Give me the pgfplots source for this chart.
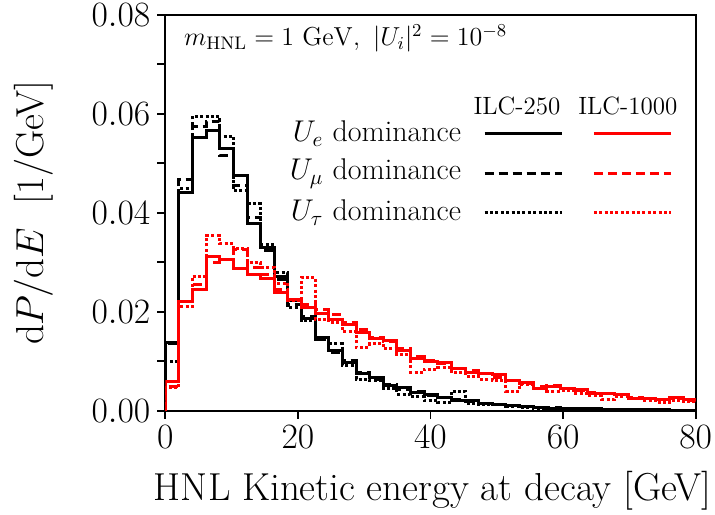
\RequirePackage{fix-cm}
\documentclass[border=0pt]{standalone}
\usepackage{pgfplots}
\pgfplotsset{compat=1.18}
\usepackage{pgfplotstable}
\pgfplotstableread{
x A B C D E F
0 0 0 0 0 0 0
0 0.0138 0.0135 0.0100 0.0059 0.0050 0.0047
2.055 0.0442 0.0468 0.0450 0.0221 0.0220 0.0210
4.11 0.0553 0.0575 0.0595 0.0245 0.0255 0.0272
6.165 0.0566 0.0585 0.0595 0.0311 0.0300 0.0354
8.22 0.0529 0.0515 0.0555 0.0305 0.0305 0.0337
10.275 0.0476 0.0455 0.0445 0.0287 0.0325 0.0327
12.33 0.0378 0.0390 0.0418 0.0276 0.0290 0.0300
14.385 0.0330 0.0323 0.0335 0.0268 0.0275 0.0290
16.44 0.0272 0.0265 0.0280 0.0240 0.0245 0.0258
18.495 0.0222 0.0215 0.0208 0.0224 0.0225 0.0222
20.55 0.0186 0.0190 0.0183 0.0208 0.0215 0.0270
22.605 0.0148 0.0145 0.0145 0.0196 0.0205 0.0185
24.66 0.0121 0.0118 0.0135 0.0184 0.0195 0.0178
26.715 0.0098 0.0102 0.0092 0.0175 0.0178 0.0160
28.77 0.0075 0.0078 0.0064 0.0158 0.0165 0.0128
30.825 0.0067 0.0064 0.0062 0.0147 0.0148 0.0135
32.88 0.0051 0.0053 0.0045 0.0143 0.0140 0.0125
34.935 0.0047 0.0044 0.0033 0.0122 0.0125 0.0113
36.99 0.0037 0.0038 0.0028 0.0106 0.0110 0.0078
39.045 0.0033 0.0030 0.0020 0.0100 0.0102 0.0084
41.1 0.0027 0.0026 0.0016 0.0097 0.0095 0.0087
43.155 0.0021 0.0023 0.0040 0.0085 0.0085 0.0077
45.21 0.0020 0.0018 0.0014 0.0078 0.0082 0.0070
47.265 0.0014 0.0015 0.0012 0.0075 0.0075 0.0064
49.32 0.0013 0.0012 0.0013 0.0073 0.0068 0.0062
51.375 0.0010 0.0010 0.0008 0.0061 0.0062 0.0040
53.43 0.0009 0.0008 0.0006 0.0057 0.0056 0.0054
55.485 0.0006 0.0007 0.0005 0.0046 0.0050 0.0045
57.54 0.0005 0.0006 0.0004 0.0050 0.0052 0.0040
59.595 0.0005 0.0005 0.0004 0.0045 0.0046 0.0041
61.65 0.0004 0.0004 0.0003 0.0044 0.0042 0.0034
63.705 0.0004 0.0003 0.0002 0.0035 0.0036 0.0030
65.76 0.0003 0.0003 0.0002 0.0034 0.0035 0.0023
67.815 0.0003 0.0002 0.0002 0.0033 0.0032 0.0028
69.87 0.0002 0.0002 0.0001 0.0024 0.0026 0.0024
71.925 0.0002 0.0002 0.0002 0.0024 0.0024 0.0020
73.98 0.0002 0.0001 0.0001 0.0023 0.0022 0.0016
76.035 0.0001 0.0001 0.0001 0.0026 0.0025 0.0020
78.09 0.0001 0.0001 0.0001 0.0022 0.0021 0.0018
80.145 0.0001 0.0001 0.0000 0.0022 0.0022 0.0018
82.2 0.0001 0.0001 0.0000 0.0022 0.0022 0.0018
82.2 0 0 0 0 0 0
}\histdata
\begin{document}
\begin{tikzpicture}
\begin{axis}[
  name=ax,
  scale only axis, width=265.2pt, height=198pt,
  xmin=0, xmax=80, ymin=0, ymax=0.08,
  xtick={0,20,40,60,80},
  ytick={0,0.02,0.04,0.06,0.08},
  minor ytick={0.01,0.03,0.05,0.07},
  tick align=outside, tick pos=left,
  major tick length=4pt, minor tick length=4pt,
  every tick/.style={black, line width=0.9pt},
  axis line style={line width=0.9pt},
  scaled y ticks=false,
  yticklabel style={/pgf/number format/fixed, /pgf/number format/fixed zerofill, /pgf/number format/precision=2},
  ticklabel style={font=\fontsize{17.8}{20}\selectfont},
  label style={font=\fontsize{19.5}{23}\selectfont},
  xlabel={HNL Kinetic energy at decay [GeV]},
  ylabel={$\mathrm{d}P/\mathrm{d}E$\ \ [1/GeV]},
  xlabel style={at={(rel axis cs:0.504,-0.201)}, anchor=center},
  ylabel style={at={(rel axis cs:-0.2485,0.5)}, anchor=center},
  clip mode=individual,
]
\addplot[const plot, black, line width=1.5pt] table[x=x, y=A] {\histdata};
\addplot[const plot, black, line width=1.5pt, dash pattern=on 4.5pt off 2.5pt] table[x=x, y=B] {\histdata};
\addplot[const plot, black, line width=1.5pt, dash pattern=on 1.5pt off 1.2pt] table[x=x, y=C] {\histdata};
\addplot[const plot, red, line width=1.5pt] table[x=x, y=D] {\histdata};
\addplot[const plot, red, line width=1.5pt, dash pattern=on 4.5pt off 2.5pt] table[x=x, y=E] {\histdata};
\addplot[const plot, red, line width=1.5pt, dash pattern=on 1.5pt off 1.2pt] table[x=x, y=F] {\histdata};

\node[anchor=west, font=\fontsize{13}{15}\selectfont] at (rel axis cs:0.022,0.94) {$m_{\mathrm{HNL}}=1~\mathrm{GeV},\ |U_i|^2=10^{-8}$};
\node[font=\fontsize{12.5}{15}\selectfont] at (rel axis cs:0.663,0.771) {ILC-250};
\node[font=\fontsize{12.5}{15}\selectfont] at (rel axis cs:0.872,0.771) {ILC-1000};
\node[anchor=east, font=\fontsize{15}{17}\selectfont] at (rel axis cs:0.571,0.700) {$U_e$ dominance};
\node[anchor=east, font=\fontsize{15}{17}\selectfont] at (rel axis cs:0.571,0.599) {$U_\mu$ dominance};
\node[anchor=east, font=\fontsize{15}{17}\selectfont] at (rel axis cs:0.571,0.501) {$U_\tau$ dominance};
\draw[black, line width=1.5pt] (rel axis cs:0.602,0.700) -- (rel axis cs:0.748,0.700);
\draw[black, line width=1.5pt, dash pattern=on 4.5pt off 2.5pt] (rel axis cs:0.602,0.599) -- (rel axis cs:0.748,0.599);
\draw[black, line width=1.5pt, dash pattern=on 1.5pt off 1.2pt] (rel axis cs:0.602,0.501) -- (rel axis cs:0.748,0.501);
\draw[red, line width=1.5pt] (rel axis cs:0.808,0.700) -- (rel axis cs:0.953,0.700);
\draw[red, line width=1.5pt, dash pattern=on 4.5pt off 2.5pt] (rel axis cs:0.808,0.599) -- (rel axis cs:0.953,0.599);
\draw[red, line width=1.5pt, dash pattern=on 1.5pt off 1.2pt] (rel axis cs:0.808,0.501) -- (rel axis cs:0.953,0.501);
\end{axis}
\pgfresetboundingbox
\path[use as bounding box] ([shift={(-82.65pt,-51.6pt)}]ax.south west) rectangle ([shift={(9.65pt,7.4pt)}]ax.north east);
\end{tikzpicture}
\end{document}
